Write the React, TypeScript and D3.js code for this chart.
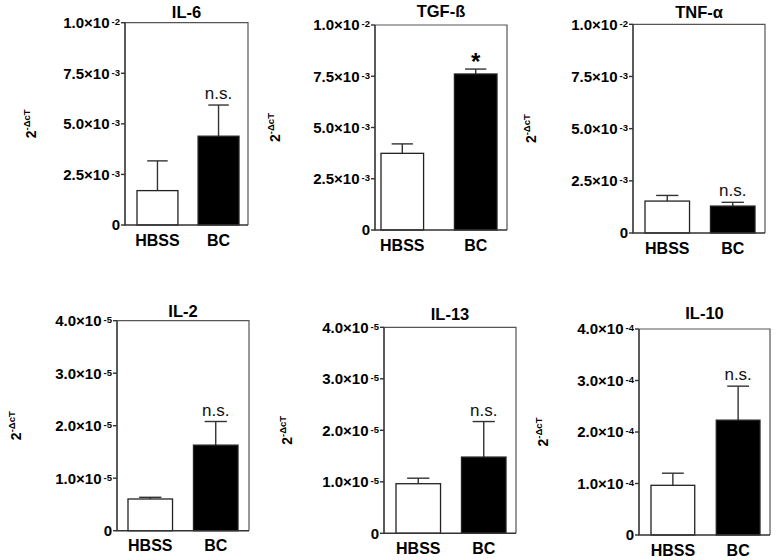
import React from "react";
import * as d3 from "d3";

const PANELS = ["IL-6", "TGF-ß", "TNF-α", "IL-2", "IL-13", "IL-10"];
const GROUPS = ["HBSS", "BC"];
const HBSS_MEAN = [1.7e-3, 3.74e-3, 1.53e-3, 6.04e-6, 9.63e-6, 9.65e-5];
const HBSS_SEM = [1.47e-3, 0.46e-3, 0.27e-3, 0.32e-6, 1.07e-6, 2.35e-5];
const BC_MEAN = [4.39e-3, 7.61e-3, 1.29e-3, 1.63e-5, 1.48e-5, 2.23e-4];
const BC_SEM = [1.54e-3, 0.24e-3, 0.18e-3, 0.45e-5, 0.69e-5, 0.66e-4];
const Y_MAX = [1e-2, 1e-2, 1e-2, 4e-5, 4e-5, 4e-4];
const TICKS_A = [0, 2.5e-3, 5e-3, 7.5e-3, 1e-2];
const TICKS_B = [0, 1e-5, 2e-5, 3e-5, 4e-5];
const TICKS_C = [0, 1e-4, 2e-4, 3e-4, 4e-4];
const Y_TICKS = [TICKS_A, TICKS_A, TICKS_A, TICKS_B, TICKS_B, TICKS_C];
const SIG = ["n.s.", "*", "n.s.", "n.s.", "n.s.", "n.s."];

const LAYOUT = [
  { x0: 125, x1: 248, y0: 22.7, y1: 225, l: 12, r: 9, pi: 0.33, labX: 36, titleY: 17.5 },
  { x0: 375, x1: 507, y0: 25, y1: 230, l: 6, r: 10, pi: 0.42, labX: 280, titleY: 16.7 },
  { x0: 633, x1: 765, y0: 24.3, y1: 233, l: 12, r: 10, pi: 0.32, labX: 536, titleY: 17.5 },
  { x0: 117, x1: 249, y0: 320.7, y1: 530.7, l: 11, r: 11, pi: 0.32, labX: 21, titleY: 316.7 },
  { x0: 384, x1: 516, y0: 327.3, y1: 533.3, l: 12, r: 10, pi: 0.32, labX: 292, titleY: 320 },
  { x0: 639, x1: 770, y0: 329, y1: 535, l: 12, r: 10, pi: 0.33, labX: 548, titleY: 319.3 },
];

const FONT = "'Liberation Sans', Arial, Helvetica, sans-serif";

function fmt(v: number): [string, string] {
  if (v === 0) return ["0", ""];
  const e = Math.floor(Math.log10(v) + 1e-9);
  const m = v / Math.pow(10, e);
  return [`${m.toFixed(1)}×10`, `${e}`];
}

function Panel({ i }: { i: number }) {
  const L = LAYOUT[i];
  const y = d3.scaleLinear().domain([0, Y_MAX[i]]).range([L.y1, L.y0]);
  const x = d3
    .scaleBand<string>()
    .domain(GROUPS)
    .range([L.x0 + L.l, L.x1 - L.r])
    .paddingInner(L.pi)
    .paddingOuter(0);
  const means = [HBSS_MEAN[i], BC_MEAN[i]];
  const sems = [HBSS_SEM[i], BC_SEM[i]];
  const bw = x.bandwidth();
  const cx = (L.x0 + L.x1) / 2;
  const midY = (L.y0 + L.y1) / 2;
  const bcX = (x("BC") as number) + bw / 2;
  const bcTop = y(BC_MEAN[i] + BC_SEM[i]);
  return (
    <g>
      <path
        d={`M${L.x0},${L.y0}H${L.x1}V${L.y1}`}
        fill="none"
        stroke="#555"
        strokeWidth={1.2}
      />
      {GROUPS.map((g, j) => {
        const bx = x(g) as number;
        const top = y(means[j]);
        const et = y(means[j] + sems[j]);
        const mx = bx + bw / 2;
        return (
          <g key={g}>
            <line x1={mx} x2={mx} y1={top} y2={et} stroke="#333" strokeWidth={1.4} />
            <line x1={mx - bw / 4} x2={mx + bw / 4} y1={et} y2={et} stroke="#333" strokeWidth={1.4} />
            <rect
              x={bx}
              y={top}
              width={bw}
              height={L.y1 - top}
              fill={j === 0 ? "#fff" : "#000"}
              stroke="#222"
              strokeWidth={1.3}
            />
          </g>
        );
      })}
      <path d={`M${L.x0},${L.y0}V${L.y1}H${L.x1}`} fill="none" stroke="#333" strokeWidth={1.6} />
      {Y_TICKS[i].map((t) => {
        const [main, ex] = fmt(t);
        const ty = y(t);
        return (
          <g key={t}>
            <line x1={L.x0 - 4} x2={L.x0} y1={ty} y2={ty} stroke="#333" strokeWidth={1.4} />
            <text
              x={L.x0 - 5}
              y={ty + 5.3}
              textAnchor="end"
              fontFamily={FONT}
              fontWeight="bold"
              fontSize={15}
              fill="#000"
            >
              {main}
              {ex && (
                <tspan fontSize={9.5} dx={2} dy={-3}>
                  {ex}
                </tspan>
              )}
            </text>
          </g>
        );
      })}
      {GROUPS.map((g) => (
        <text
          key={g}
          x={(x(g) as number) + bw / 2}
          y={L.y1 + 20.5}
          textAnchor="middle"
          fontFamily={FONT}
          fontWeight="bold"
          fontSize={16}
          fill="#000"
        >
          {g}
        </text>
      ))}
      <text
        x={cx}
        y={L.titleY}
        textAnchor="middle"
        fontFamily={FONT}
        fontWeight="bold"
        fontSize={16.5}
        fill="#000"
      >
        {PANELS[i]}
      </text>
      <text
        transform={`translate(${L.labX},${midY}) rotate(-90)`}
        textAnchor="middle"
        fontFamily={FONT}
        fontWeight="bold"
        fontSize={14}
        fill="#000"
      >
        2
        <tspan fontSize={9.5} dy={-6}>
          -ΔcT
        </tspan>
      </text>
      {SIG[i] === "*" ? (
        <text
          x={bcX}
          y={bcTop + 1}
          textAnchor="middle"
          fontFamily={FONT}
          fontWeight="bold"
          fontSize={24}
          fill="#000"
        >
          *
        </text>
      ) : (
        <text
          x={bcX}
          y={bcTop - 6}
          textAnchor="middle"
          fontFamily={FONT}
          fontSize={17}
          fill="#111"
        >
          {SIG[i]}
        </text>
      )}
    </g>
  );
}

export default function App() {
  return (
    <svg
      width={776}
      height={560}
      style={{ position: "absolute", left: 0, top: 0, display: "block", background: "#fff" }}
    >
      <rect width={776} height={560} fill="#fff" />
      {PANELS.map((_, i) => (
        <Panel key={i} i={i} />
      ))}
    </svg>
  );
}
